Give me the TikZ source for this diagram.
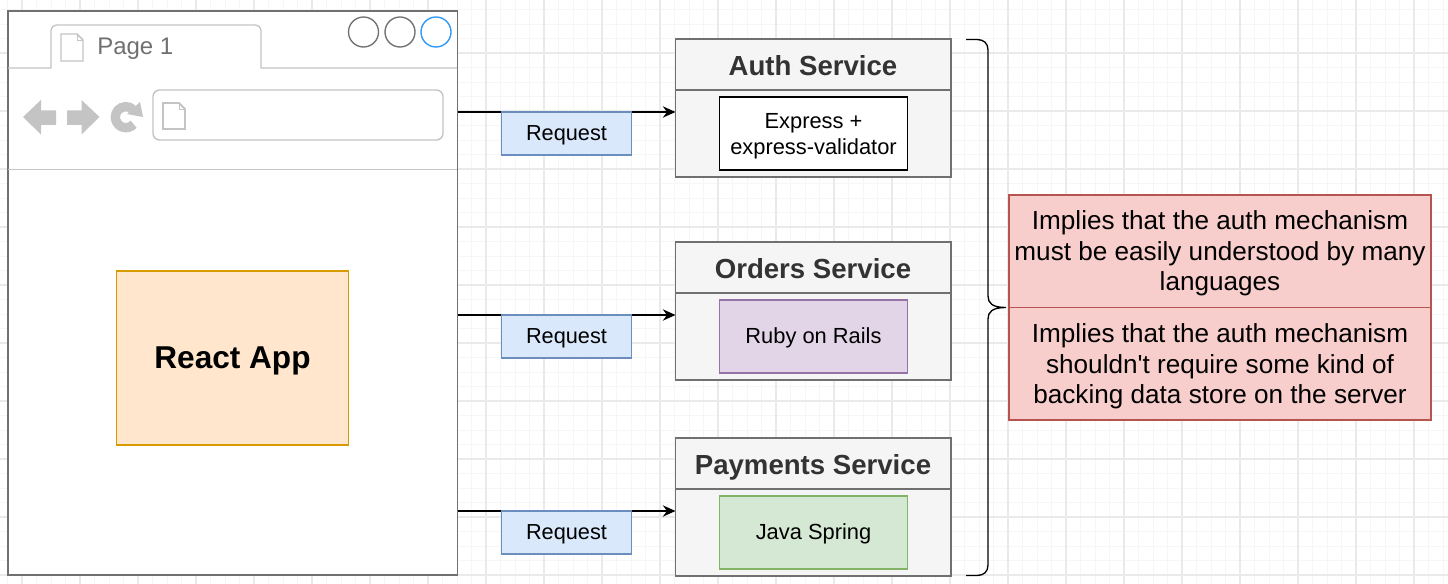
\documentclass[tikz,border=0pt]{standalone}
\usepackage{fontspec}
\setmainfont{Liberation Sans}[Ligatures=TeXOff]
\usetikzlibrary{arrows.meta}
\pgfdeclarelayer{gridlayer}
\pgfdeclarelayer{connlayer}
\pgfsetlayers{gridlayer,connlayer,main}
\definecolor{gridmajor}{HTML}{EAEAEA}
\definecolor{gridminor}{HTML}{F6F6F6}
\definecolor{svcfill}{HTML}{F5F5F5}
\definecolor{svcline}{HTML}{707070}
\definecolor{svctext}{HTML}{333333}
\definecolor{uigray}{HTML}{C4C4C4}
\definecolor{blfill}{HTML}{DAE8FC}
\definecolor{blline}{HTML}{6C8EBF}
\definecolor{orfill}{HTML}{FFE6CC}
\definecolor{orline}{HTML}{D79B00}
\definecolor{pufill}{HTML}{E1D5E7}
\definecolor{puline}{HTML}{9673A6}
\definecolor{grfill}{HTML}{D5E8D4}
\definecolor{grline}{HTML}{82B366}
\definecolor{rdfill}{HTML}{F8CECC}
\definecolor{rdline}{HTML}{B85450}
\definecolor{tabblue}{HTML}{2E96F5}
\newcommand{\dropped}[2]{\raisebox{-#1}[\height][\depth]{\begin{tabular}{@{}c@{}}#2\end{tabular}}}
\tikzset{
  px/.style={x=0.75pt,y=-0.75pt},
  box/.style={rectangle,draw,line width=1.05pt,inner sep=0pt,outer sep=0pt,align=center,anchor=north west},
  service/.style={box,fill=svcfill,draw=svcline,minimum width=206.6pt,minimum height=103.5pt},
  svctitle/.style={font=\fontsize{20.7}{24}\selectfont\bfseries,text=svctext,anchor=center,inner sep=0pt,text height=15pt,text depth=0pt},
  impl/.style={box,minimum width=141pt,minimum height=54.75pt,font=\fontsize{16.4}{19.5}\selectfont},
  request/.style={box,fill=blfill,draw=blline,minimum width=97.5pt,minimum height=32.25pt,font=\fontsize{16.3}{19.5}\selectfont},
  note/.style={box,fill=rdfill,draw=rdline,minimum width=316.5pt,minimum height=84.4pt,font=\fontsize{19.6}{22.95}\selectfont},
  conn/.style={line width=1pt,-{Stealth[length=9.5pt,width=8.5pt]}},
  winbtn/.style={circle,draw,fill=white,line width=1pt,minimum size=22.5pt,inner sep=0pt,outer sep=0pt},
  uiline/.style={draw=uigray,line width=1pt},
  docicon/.style={draw=uigray,fill=white,line width=1.1pt,line join=miter}
}
\begin{document}
\begin{tikzpicture}[px]
\useasboundingbox (0,0) rectangle (1448,584);
\begin{pgfonlayer}{gridlayer}
  \fill[white] (0,0) rectangle (1448,584);
  \foreach \k in {-5,...,100} {
    \draw[gridminor,line width=0.7pt] ({7.5+14.5*\k},0) -- ({7.5+14.5*\k},584);
  }
  \foreach \k in {-3,...,40} {
    \draw[gridminor,line width=0.7pt] (0,{9.5+14.5*\k}) -- (1448,{9.5+14.5*\k});
  }
  \foreach \k in {-1,...,24} {
    \draw[gridmajor,line width=0.8pt] ({22+58*\k},0) -- ({22+58*\k},584);
  }
  \foreach \k in {0,...,10} {
    \draw[gridmajor,line width=0.8pt] (0,{-5+58*\k}) -- (1448,{-5+58*\k});
  }
\end{pgfonlayer}

% browser window
\node[box,fill=white,draw=svcline,minimum width=337pt,minimum height=423pt] (browser) at (8,11) {};
\draw[uiline] (8,68) -- (51,68) [rounded corners=4.5pt] -- (51,25) -- (261,25) [sharp corners] -- (261,68) -- (457,68);
\draw[uiline] (8,169.5) -- (457,169.5);
\node[anchor=west,inner sep=0pt,text=svcline,font=\fontsize{18}{22}\selectfont] (pagelabel) at (97,49) {Page 1};
\draw[docicon] (61,34) -- (77,34) -- (83,40) -- (83,61) -- (61,61) -- cycle;
\draw[uigray,line width=0.6pt] (77,34) -- (77,40) -- (83,40);
\node[winbtn,draw=svcline] (btnA) at (363.5,32) {};
\node[winbtn,draw=svcline] (btnB) at (400,32) {};
\node[winbtn,draw=tabblue] (btnC) at (436,32) {};
\fill[uigray] (23,117) -- (41,100) -- (41,110.5) -- (56,110.5) -- (56,125) -- (41,125) -- (41,134.5) -- cycle;
\fill[uigray] (99.5,117) -- (81.5,100) -- (81.5,110.5) -- (67,110.5) -- (67,125) -- (81.5,125) -- (81.5,134.5) -- cycle;
% reload icon: ring open to the right, with its arrow head
\draw[uigray,line width=7pt] (133,109.5) arc[start angle=-47,end angle=-318,radius=10.5];
\fill[uigray] (127,114) -- (143,117) -- (140,102) -- cycle;
\node[box,fill=white,draw=uigray,minimum width=217.5pt,minimum height=37.5pt,rounded corners=5pt] (addr) at (153,90) {};
\draw[docicon,line width=1.4pt] (163,103) -- (179,103) -- (185,109) -- (185,129) -- (163,129) -- cycle;
\draw[uigray,line width=0.6pt] (179,103) -- (179,109) -- (185,109);

\node[box,fill=orfill,draw=orline,minimum width=174pt,minimum height=130.5pt,font=\fontsize{23.7}{28}\selectfont\bfseries] (react) at (116.5,271) {\dropped{2.25pt}{React App}};

% services
\node[service] (auth) at (675.5,39) {};
\draw[draw=svcline,line width=1.05pt] (auth.west |- 0,90) -- (auth.east |- 0,90);
\node[svctitle] (authT) at (813,65.5) {Auth Service};
\node[impl,fill=white,draw=black] (authI) at (719.5,97) {\dropped{2.25pt}{Express +\\express-validator}};

\node[service] (orders) at (675.5,242) {};
\draw[draw=svcline,line width=1.05pt] (orders.west |- 0,293) -- (orders.east |- 0,293);
\node[svctitle] (ordersT) at (813,268.5) {Orders Service};
\node[impl,fill=pufill,draw=puline] (ordersI) at (719.5,300) {\dropped{1.5pt}{Ruby on Rails}};

\node[service] (pay) at (675.5,438) {};
\draw[draw=svcline,line width=1.05pt] (pay.west |- 0,489) -- (pay.east |- 0,489);
\node[svctitle] (payT) at (813,464.5) {Payments Service};
\node[impl,fill=grfill,draw=grline] (payI) at (719.5,496) {\dropped{1.5pt}{Java Spring}};

% requests
\node[request] (reqA) at (501.5,112) {\dropped{1.5pt}{Request}};
\node[request] (reqB) at (501.5,315) {\dropped{1.5pt}{Request}};
\node[request] (reqC) at (501.5,511) {\dropped{1.5pt}{Request}};
\begin{pgfonlayer}{connlayer}
  \draw[conn] (browser.east |- reqA.north) -- (auth.west |- reqA.north);
  \draw[conn] (browser.east |- reqB.north) -- (orders.west |- reqB.north);
  \draw[conn] (browser.east |- reqC.north) -- (pay.west |- reqC.north);
\end{pgfonlayer}

% brace
\coordinate (braceTop) at (966,39.5);
\coordinate (braceBot) at (966,575.5);
\coordinate (braceTip) at (1006,307.5);
\draw[black,line width=1pt] (braceTop) -- (977,39.5)
  .. controls (984,39.5) and (988,43.5) .. (988,50) -- (988,296)
  .. controls (988,303) and (992,307.5) .. (braceTip)
  .. controls (992,307.5) and (988,312) .. (988,319) -- (988,565)
  .. controls (988,571.5) and (984,575.5) .. (977,575.5) -- (braceBot);

% notes
\node[note] (noteA) at (1009,195) {\dropped{2.25pt}{Implies that the auth mechanism\\must be easily understood by many\\languages}};
\node[note] (noteB) at (1009,307.5) {\dropped{2.6pt}{Implies that the auth mechanism\\shouldn't require some kind of\\backing data store on the server}};
\end{tikzpicture}
\end{document}
